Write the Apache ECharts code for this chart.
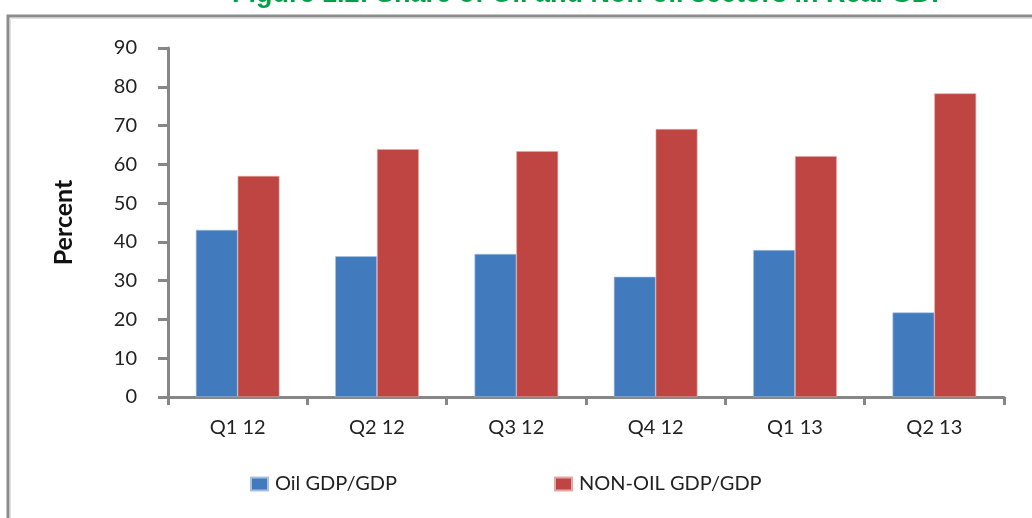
<!DOCTYPE html>
<html>
<head>
<meta charset="utf-8">
<script src="https://cdn.jsdelivr.net/npm/echarts@6/dist/echarts.min.js"></script>
<style>
html,body{margin:0;padding:0;background:#fff;}
#c{width:1032px;height:518px;}
</style>
</head>
<body>
<div id="c"></div>
<script>
var categories = ['Q1 12','Q2 12','Q3 12','Q4 12','Q1 13','Q2 13'];
var oilShare = [43.1, 36.3, 36.9, 31.0, 37.9, 21.8];
var nonOilShare = [57.0, 63.9, 63.4, 69.1, 62.1, 78.3];
var seriesNames = ['Oil GDP/GDP', 'NON-OIL GDP/GDP'];
var yTicks = [0, 90, 10];
var titleText = 'Figure 1.2: Share of Oil and Non-oil sectors in Real GDP';

var font = 'Lato, "Open Sans", sans-serif';
var chart = echarts.init(document.getElementById('c'), null, {renderer:'canvas'});
var legendBase = {
  top:474, padding:0, itemWidth:17, itemHeight:13, icon:'rect',
  textStyle:{fontFamily:font, fontSize:20, color:'#222', padding:[0,0,0,2]}
};
chart.setOption({
  animation:false,
  backgroundColor:'#fff',
  graphic:[
    {type:'text', left:232, top:-19, z:10,
     style:{text:titleText, font:'bold 27px "Liberation Sans", Arial, sans-serif', fill:'#00A04A'}},
    {type:'polyline', z:5, shape:{points:[[8,518],[8,16],[1032,16]]},
     style:{stroke:'#8c8c8c', lineWidth:3, fill:null}},
    {type:'polyline', z:4, shape:{points:[[10.5,518],[10.5,18.5],[1032,18.5]]},
     style:{stroke:'#e2e2e2', lineWidth:1, fill:null}}
  ],
  legend:[
    Object.assign({left:250, data:[seriesNames[0]]}, legendBase),
    Object.assign({left:554, data:[seriesNames[1]]}, legendBase)
  ],
  grid:{left:168, right:28, top:48, bottom:121, containLabel:false},
  xAxis:{
    type:'category', data:categories,
    axisLine:{lineStyle:{color:'#878787', width:3}},
    axisTick:{show:true, length:8, lineStyle:{color:'#878787', width:3}},
    axisLabel:{fontFamily:font, fontSize:20, color:'#222', margin:21}
  },
  yAxis:{
    type:'value', min:yTicks[0], max:yTicks[1], interval:yTicks[2],
    name:'Percent', nameLocation:'middle', nameGap:92, nameRotate:90,
    nameTextStyle:{fontFamily:font, fontSize:25, fontWeight:'bold', color:'#111'},
    axisLine:{show:true, lineStyle:{color:'#878787', width:3}},
    axisTick:{show:true, length:10, lineStyle:{color:'#878787', width:3}},
    axisLabel:{fontFamily:font, fontSize:20, color:'#222', margin:31},
    splitLine:{show:false}
  },
  series:[
    {name:seriesNames[0], type:'bar', data:oilShare, barGap:'0%', barCategoryGap:'40%',
     itemStyle:{color:'#417bbd', borderColor:'#a9c1e0', borderWidth:0.6}},
    {name:seriesNames[1], type:'bar', data:nonOilShare, barGap:'0%', barCategoryGap:'40%',
     itemStyle:{color:'#bf4542', borderColor:'#e3a8a6', borderWidth:0.6}}
  ]
});
</script>
</body>
</html>
